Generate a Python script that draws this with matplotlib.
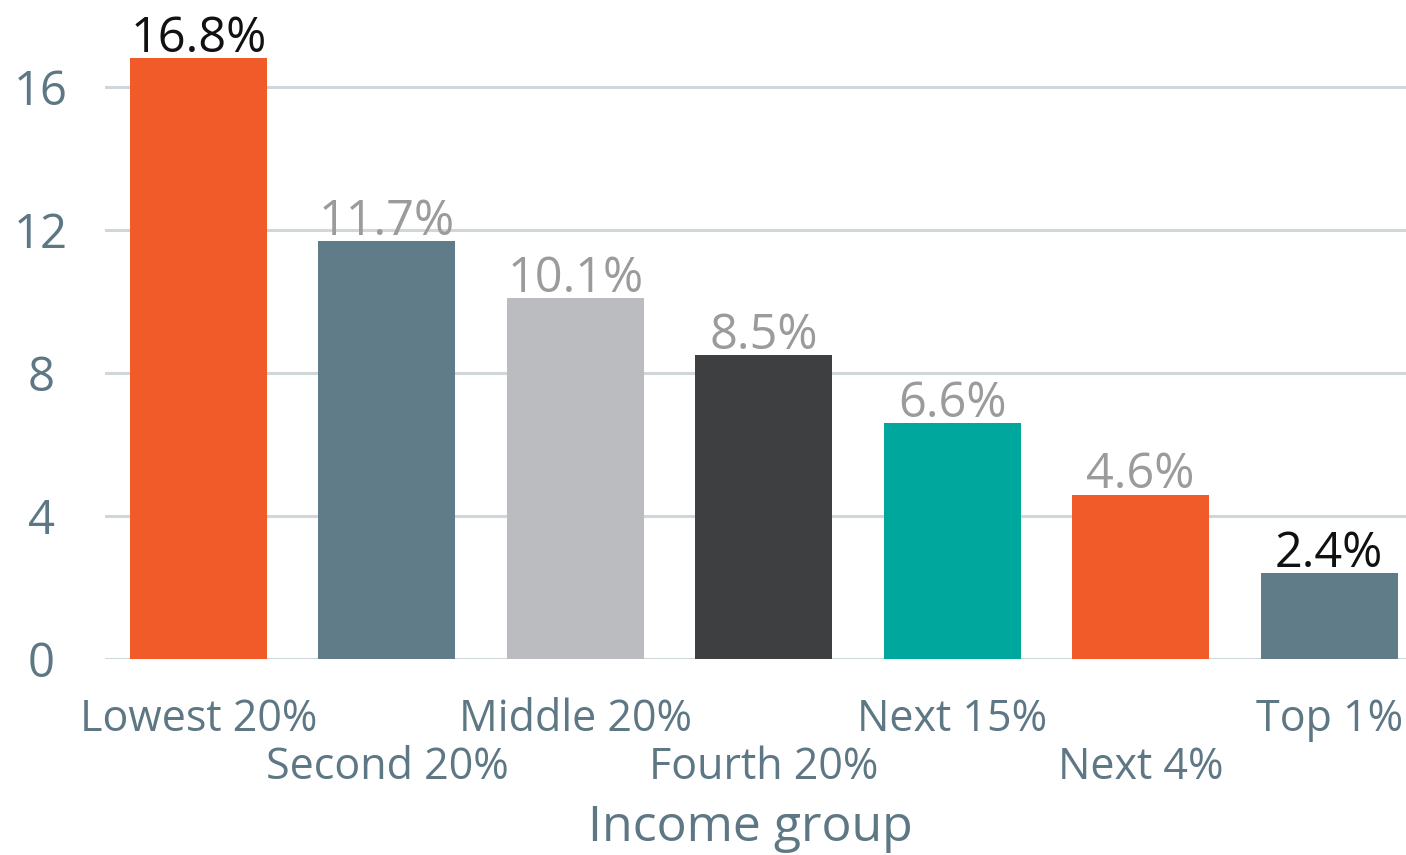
import matplotlib.pyplot as plt

groups = ["Lowest 20%", "Second 20%", "Middle 20%", "Fourth 20%",
          "Next 15%", "Next 4%", "Top 1%"]
shares = [16.8, 11.7, 10.1, 8.5, 6.6, 4.6, 2.4]
bar_colors = ["#f15a29", "#607c89", "#bbbcbf", "#3e3f41",
              "#00a79d", "#f15a29", "#607c89"]
label_colors = ["#111111", "#9b9b9b", "#9b9b9b", "#9b9b9b",
                "#9b9b9b", "#9b9b9b", "#111111"]
y_ticks = [0, 4, 8, 12, 16]

plt.rcParams["font.family"] = ["Open Sans", "DejaVu Sans"]
slate = "#5d7784"

fig = plt.figure(figsize=(14.06, 8.55), dpi=100)
ax = fig.add_axes([0.0747, 0.2292, 0.9253, 0.7708])

x = list(range(len(groups)))
ax.bar(x, shares, width=0.727, color=bar_colors, zorder=2)

# value labels sit just above each bar
for xi, v, c in zip(x, shares, label_colors):
    ax.text(xi, v + 0.17, f"{v}%", ha="center", va="baseline",
            fontsize=35, color=c, zorder=3, clip_on=False)

ax.set_xlim(-0.496, 6.408)
ax.set_ylim(0, 18.43)
ax.set_yticks(y_ticks)
ax.yaxis.grid(True, color="#d0d7da", linewidth=2.2, zorder=0)
ax.set_axisbelow(True)

for s in ax.spines.values():
    s.set_visible(False)

ax.tick_params(axis="y", length=0, pad=46, labelsize=34, labelcolor=slate)
for lab in ax.get_yticklabels():
    lab.set_horizontalalignment("center")

# staggered category labels
ax.set_xticks(x)
ax.set_xticklabels(groups)
ax.tick_params(axis="x", length=0, labelsize=31, labelcolor=slate)
for i, t in enumerate(ax.xaxis.get_major_ticks()):
    t.set_pad(28 if i % 2 == 0 else 62)

ax.set_xlabel("Income group", fontsize=36, color=slate)
ax.xaxis.label.set_verticalalignment("baseline")
ax.xaxis.set_label_coords(0.4958, -0.2762)

fig.savefig("out.png", dpi=100)
